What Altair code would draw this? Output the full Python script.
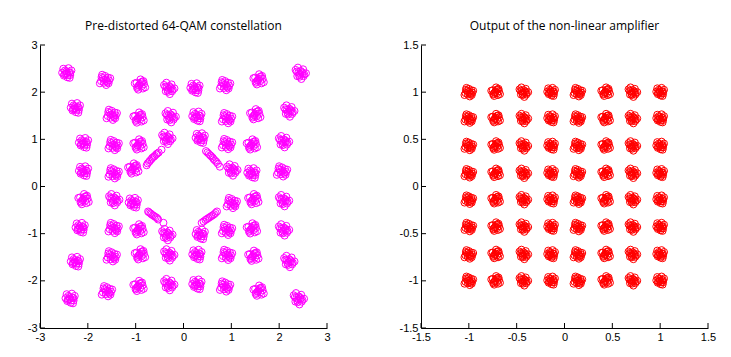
import altair as alt
import pandas as pd

# ---- cluster centres ----
left_cx = [-2.44, -1.64, -0.91, -0.31, 0.24, 0.87, 1.57, 2.44,
           -2.26, -1.50, -0.94, -0.28, 0.28, 0.91, 1.50, 2.20,
           -2.09, -1.46, -0.94, -0.35, 0.35, 0.91, 1.43, 2.09,
           -2.09, -1.46, -1.05, 1.01, 1.43, 2.06,
           -2.09, -1.46, -1.05, 1.01, 1.46, 2.09,
           -2.16, -1.46, -0.94, -0.35, 0.35, 0.91, 1.43, 2.09,
           -2.26, -1.50, -0.91, -0.31, 0.28, 0.91, 1.46, 2.20,
           -2.37, -1.60, -0.94, -0.31, 0.28, 0.87, 1.57, 2.40]
left_cy = [2.40, 2.26, 2.15, 2.08, 2.08, 2.15, 2.26, 2.40,
           1.66, 1.52, 1.45, 1.48, 1.48, 1.45, 1.52, 1.60,
           0.92, 0.88, 0.88, 1.02, 1.02, 0.90, 0.88, 0.95,
           0.32, 0.28, 0.37, 0.35, 0.28, 0.32,
           -0.28, -0.28, -0.35, -0.35, -0.28, -0.30,
           -0.88, -0.88, -0.92, -1.02, -1.02, -0.92, -0.90, -0.92,
           -1.60, -1.48, -1.45, -1.45, -1.45, -1.45, -1.48, -1.59,
           -2.38, -2.22, -2.12, -2.08, -2.08, -2.12, -2.22, -2.38]

# pre-distorted inner points (streaks), read point by point
streak_x = [-0.77, -0.75, -0.72, -0.70, -0.67, -0.65, -0.62, -0.60, -0.57, -0.55, -0.52, -0.46,
            0.47, 0.50, 0.53, 0.56, 0.58, 0.61, 0.63, 0.66, 0.69, 0.72, 0.76,
            -0.74, -0.72, -0.69, -0.67, -0.64, -0.61, -0.58, -0.55, -0.53, -0.42,
            0.38, 0.42, 0.46, 0.49, 0.52, 0.55, 0.58, 0.61, 0.64, 0.67, 0.70]
streak_y = [0.45, 0.49, 0.52, 0.55, 0.58, 0.61, 0.63, 0.65, 0.68, 0.70, 0.72, 0.78,
            0.75, 0.72, 0.69, 0.66, 0.64, 0.61, 0.58, 0.55, 0.52, 0.48, 0.42,
            -0.53, -0.55, -0.57, -0.59, -0.61, -0.63, -0.65, -0.67, -0.70, -0.77,
            -0.77, -0.74, -0.71, -0.69, -0.67, -0.65, -0.63, -0.61, -0.59, -0.56, -0.53]

right_cols = [-1.0, -0.72, -0.43, -0.14, 0.14, 0.43, 0.71, 1.0]
right_rows = [1.0, 0.72, 0.43, 0.14, -0.14, -0.43, -0.72, -1.0]

# noise patterns around each centre (typed offsets, unit spread)
pat_dx = [
    [0.0, 0.4, -0.3, 0.6, -0.5, 0.1, 0.8, -0.8, 0.3, -0.2, 0.5, -0.6, 0.2, -0.1, 0.6, -0.4],
    [0.1, -0.4, 0.5, -0.2, 0.7, -0.7, 0.2, 0.0, -0.5, 0.9, -0.9, 0.4, -0.2, 0.3, -0.6, 0.6],
    [-0.1, 0.3, -0.4, 0.2, -0.6, 0.7, 0.5, -0.3, 0.9, -0.9, 0.1, 0.6, 0.0, -0.2, 0.4, -0.5],
    [0.0, -0.3, 0.4, 0.1, -0.5, 0.6, -0.1, 0.5, -0.8, 1.0, -0.4, 0.2, 0.3, -0.2, -0.6, 0.7],
]
pat_dy = [
    [0.0, 0.2, 0.5, -0.3, -0.4, -0.7, 0.5, 0.1, 0.9, -0.1, -0.8, 0.8, -0.3, 0.3, 0.1, -0.2],
    [0.1, 0.3, 0.4, -0.5, -0.1, -0.2, -0.9, 0.7, 0.9, 0.3, -0.6, -0.4, 0.0, -0.2, 0.5, -0.6],
    [0.0, -0.2, -0.3, 0.5, 0.4, 0.2, -0.6, -0.8, -0.4, 0.3, 1.0, 0.7, 0.2, -0.1, 0.6, -0.5],
    [-0.1, 0.2, 0.0, 0.4, -0.5, -0.5, -0.6, 0.7, 0.6, 0.0, 1.0, -1.0, 0.2, -0.3, 0.3, -0.2],
]

left_ticks = [-3, -2, -1, 0, 1, 2, 3]
right_ticks = [-1.5, -1, -0.5, 0, 0.5, 1, 1.5]

rows = []
for i, (cx, cy) in enumerate(zip(left_cx, left_cy)):
    k = i % 4
    for dx, dy in zip(pat_dx[k], pat_dy[k]):
        rows.append({"x": cx + 0.12 * dx, "y": cy + 0.12 * dy})
for sx, sy in zip(streak_x, streak_y):
    rows.append({"x": sx, "y": sy})
left_df = pd.DataFrame(rows)

rows = []
i = 0
for cy in right_rows:
    for cx in right_cols:
        k = (i + 1) % 4
        for dx, dy in zip(pat_dx[k], pat_dy[k]):
            rows.append({"x": cx + 0.05 * dx, "y": cy + 0.05 * dy})
        i += 1
right_df = pd.DataFrame(rows)

W, H = 287, 283


def panel(df, ticks, dom, color, title):
    xs = alt.Scale(domain=dom, nice=False, zero=False)
    ys = alt.Scale(domain=dom, nice=False, zero=False)
    ax = alt.Axis(values=ticks, ticks=False, grid=False, domainColor="black",
                  labelColor="black", labelFont="Liberation Sans", labelFontSize=11,
                  labelPadding=3, title=None, labelFlush=False, labelOverlap=False,
                  format="~g", labelExpr="replace(datum.label, '\u2212', '-')")
    pts = alt.Chart(df).mark_point(shape="circle", filled=False, size=50,
                                   strokeWidth=1, color=color, opacity=1).encode(
        x=alt.X("x:Q", scale=xs, axis=ax),
        y=alt.Y("y:Q", scale=ys, axis=ax),
    )
    tdf = pd.DataFrame({"v": ticks})
    xt = alt.Chart(tdf).mark_rule(color="black", strokeWidth=1).encode(
        x=alt.X("v:Q", scale=xs, axis=ax), y=alt.value(H), y2=alt.value(H - 5))
    yt = alt.Chart(tdf).mark_rule(color="black", strokeWidth=1).encode(
        y=alt.Y("v:Q", scale=ys, axis=ax), x=alt.value(0), x2=alt.value(5))
    return alt.layer(pts, xt, yt).properties(
        width=W, height=H,
        title=alt.TitleParams(title, font="Open Sans", fontSize=12, fontWeight="normal",
                              color="black", offset=6))


left = panel(left_df, left_ticks, [-3, 3], "#ff00ff", "Pre-distorted 64-QAM constellation")
right = panel(right_df, right_ticks, [-1.5, 1.5], "#ff0000", "Output of the non-linear amplifier")

chart = alt.hconcat(left, right, spacing=68).properties(
    padding={"left": 27, "top": 20, "right": 5, "bottom": 5}
).configure_view(stroke=None).configure_axis(domainWidth=1)

chart.save("out.html", embed_options={"renderer": "svg", "actions": False})
